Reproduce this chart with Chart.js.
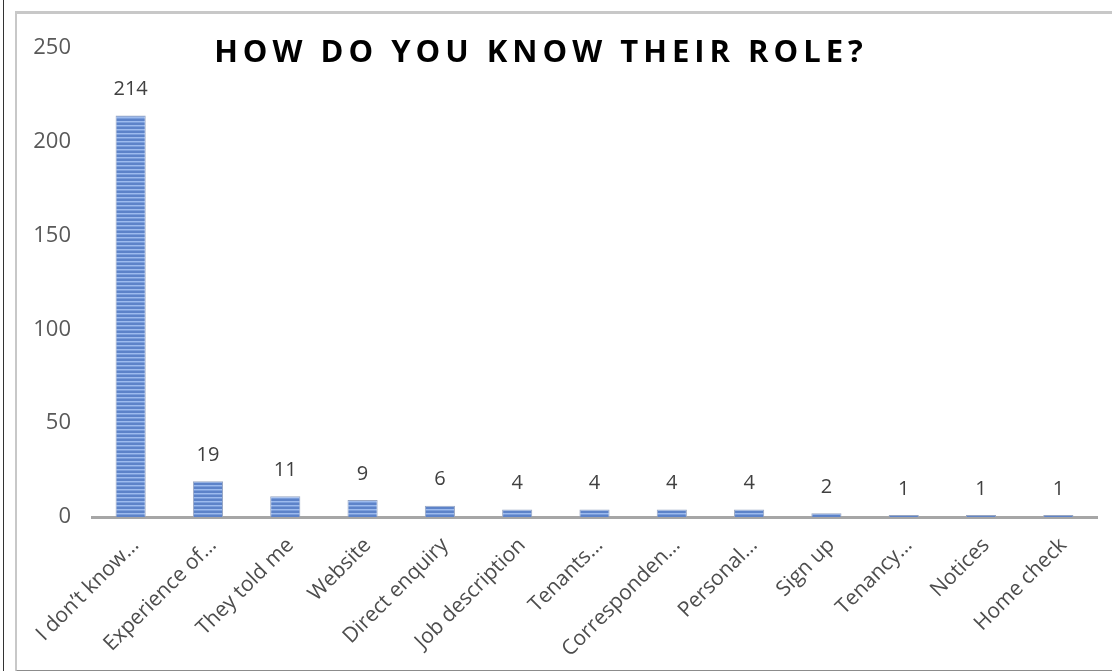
<!DOCTYPE html>
<html>
<head>
<meta charset="utf-8">
<script src="https://cdn.jsdelivr.net/npm/chart.js@4.4.1/dist/chart.umd.min.js"></script>
<style>
  html, body { margin: 0; padding: 0; background: #fff; }
  #wrap { position: relative; width: 1112px; height: 671px; overflow: hidden; }
  #outer { position: absolute; left: 3px; top: 0; width: 1px; height: 671px; background: #333; }
  #frame {
    position: absolute; left: 15px; top: 11px; width: 1110px; height: 656px;
    border-top: 3px solid #c8c8c8; border-left: 2px solid #c8c8c8; border-bottom: 2px solid #8c8c8c;
  }
  #title {
    position: absolute; left: 0; top: 29px; width: 1082px; text-align: center;
    font: bold 31px "Open Sans", sans-serif; letter-spacing: 5px; color: #000;
  }
  canvas { position: absolute; left: 0; top: 0; }
</style>
</head>
<body>
<div id="wrap">
  <div id="outer"></div>
  <div id="frame"></div>
  <canvas id="chart" width="1112" height="671"></canvas>
  <div id="title">HOW DO YOU KNOW THEIR ROLE?</div>
</div>
<script>
// ------------------------------------------------------------
//  Datos
// ------------------------------------------------------------
const categorias = [
    'I don\u2019t know\u2026', 'Experience of\u2026', 'They told me', 'Website',
    'Direct enquiry', 'Job description', 'Tenants\u2026', 'Corresponden\u2026',
    'Personal\u2026', 'Sign up', 'Tenancy\u2026', 'Notices', 'Home check'
];
const valores = [214, 19, 11, 9, 6, 4, 4, 4, 4, 2, 1, 1, 1];
const ticksY = [0, 50, 100, 150, 200, 250];

// ------------------------------------------------------------
//  Relleno rayado de las barras
// ------------------------------------------------------------
function rayas() {
    const c = document.createElement('canvas');
    c.width = 4; c.height = 4;
    const g = c.getContext('2d');
    g.fillStyle = '#5d83c9'; g.fillRect(0, 0, 4, 4);
    g.fillStyle = '#9dbbee'; g.fillRect(0, 1, 4, 1);
    g.fillStyle = '#7a9ddb'; g.fillRect(0, 2, 4, 1);
    return g.createPattern(c, 'repeat');
}

// ------------------------------------------------------------
//  Etiquetas con el valor encima de cada barra
// ------------------------------------------------------------
const etiquetas = {
    id: 'etiquetas',
    afterDatasetsDraw(chart) {
        const ctx = chart.ctx;
        const meta = chart.getDatasetMeta(0);
        ctx.save();
        ctx.font = '20px "Open Sans", sans-serif';
        ctx.fillStyle = '#404040';
        ctx.textAlign = 'center';
        ctx.textBaseline = 'middle';
        meta.data.forEach((bar, i) => {
            ctx.fillText(String(valores[i]), bar.x, bar.y - 26);
        });
        ctx.restore();
    }
};

new Chart(document.getElementById('chart').getContext('2d'), {
    type: 'bar',
    data: {
        labels: categorias,
        datasets: [{
            data: valores,
            backgroundColor: rayas(),
            borderColor: '#98a6c2',
            borderWidth: 1,
            barPercentage: 0.78,
            categoryPercentage: 0.5
        }]
    },
    options: {
        responsive: false,
        animation: false,
        layout: { padding: { left: 20, right: 15, top: 48, bottom: 0 } },
        plugins: { legend: { display: false }, title: { display: false }, tooltip: { enabled: false } },
        scales: {
            y: {
                min: 0, max: 250,
                afterFit: s => { s.width = 72; },
                afterBuildTicks: s => { s.ticks = ticksY.map(v => ({ value: v })); },
                grid: { display: false, drawTicks: false },
                border: { display: false },
                ticks: {
                    padding: 21,
                    color: '#595959',
                    font: { size: 22, family: 'Open Sans, sans-serif' }
                }
            },
            x: {
                afterFit: s => { s.height = 154; },
                grid: { display: false, drawTicks: false },
                border: { display: true, color: '#a6a6a6', width: 3 },
                ticks: {
                    autoSkip: false,
                    maxRotation: 45, minRotation: 45,
                    padding: 16,
                    labelOffset: 5,
                    color: '#4d4d4d',
                    font: { size: 21, family: 'Open Sans, sans-serif' }
                }
            }
        }
    },
    plugins: [etiquetas]
});
</script>
</body>
</html>
